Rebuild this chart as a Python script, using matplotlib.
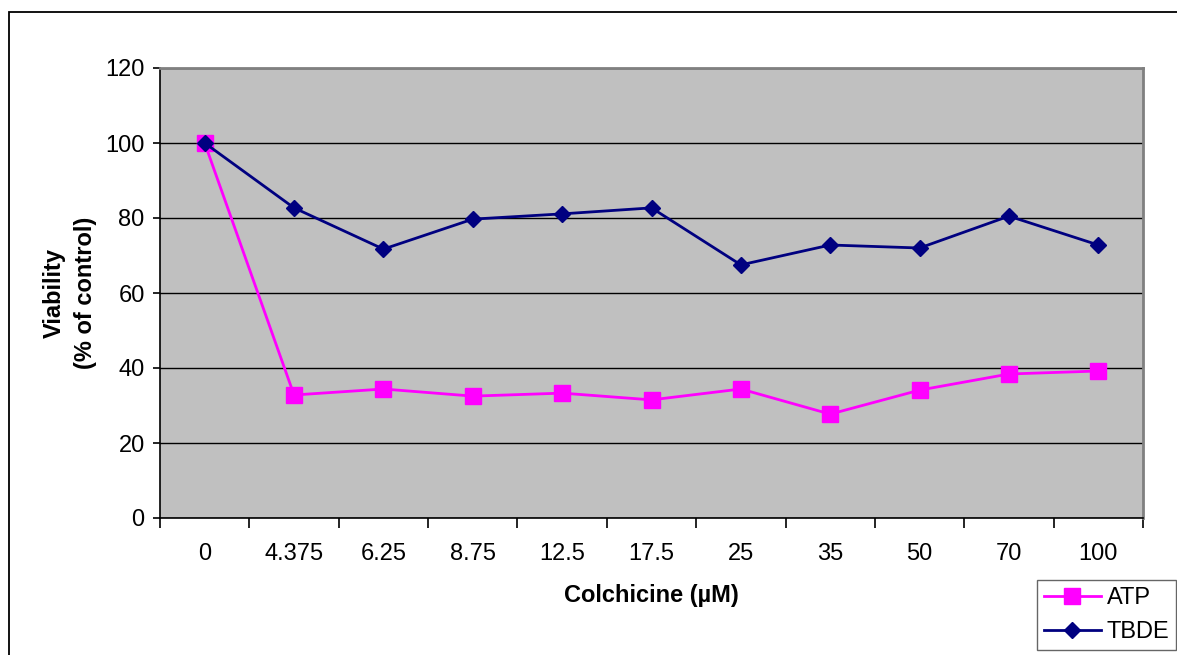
import matplotlib
matplotlib.use("Agg")
import matplotlib.pyplot as plt
from matplotlib.patches import Rectangle

plt.rcParams['font.family'] = ['Liberation Sans', 'DejaVu Sans']

# Colchicine concentrations (categorical x axis)
doses = ['0', '4.375', '6.25', '8.75', '12.5', '17.5', '25', '35', '50', '70', '100']
atp = [100, 32.8, 34.4, 32.5, 33.3, 31.5, 34.4, 27.7, 34.1, 38.4, 39.2]
tbde = [100, 82.7, 71.7, 79.7, 81.1, 82.7, 67.5, 72.8, 72.0, 80.5, 72.8]

W, H = 1177, 655
FS = 17
fig = plt.figure(figsize=(W / 100, H / 100), dpi=100)

# outer chart frame, running off the right and bottom edges
fig.patches.append(Rectangle((9 / W, -0.1), 1.2, 1 - 12 / H + 0.1,
                             transform=fig.transFigure, fill=False,
                             edgecolor='black', linewidth=1.3))

ax = fig.add_axes([160 / W, 1 - 518 / H, (1143 - 160) / W, (518 - 68) / H])
ax.set_facecolor('#C0C0C0')

x = list(range(len(doses)))
ax.plot(x, atp, color='#FF00FF', marker='s', markersize=11, linewidth=2,
        label='ATP', zorder=3)
ax.plot(x, tbde, color='#000080', marker='D', markersize=8, linewidth=2,
        label='TBDE', zorder=4)

ax.set_xlim(-0.5, len(doses) - 0.5)
ax.set_ylim(0, 120)
ax.set_yticks(range(0, 121, 20))
ax.yaxis.grid(True, color='black', linewidth=1)
ax.set_axisbelow(True)

# category labels centred, tick marks on category boundaries
ax.set_xticks(x)
ax.set_xticklabels(doses, fontsize=FS)
ax.tick_params(axis='x', which='major', length=0, pad=18)
ax.set_xticks([i - 0.5 for i in range(len(doses) + 1)], minor=True)
ax.tick_params(axis='x', which='minor', length=7, width=1.2, color='black')
ax.tick_params(axis='y', length=5, width=1.2, labelsize=FS, pad=6)

for side in ('top', 'right'):
    ax.spines[side].set_color('#808080')
    ax.spines[side].set_linewidth(2)
for side in ('left', 'bottom'):
    ax.spines[side].set_color('black')
    ax.spines[side].set_linewidth(1.2)

ax.set_xlabel('Colchicine (µM)', fontsize=FS, fontweight='bold', labelpad=14)
ax.set_ylabel('Viability\n(% of control)', fontsize=FS, fontweight='bold',
              labelpad=6, linespacing=1.45)

leg = fig.legend(loc='upper left', bbox_to_anchor=(1037 / W, 1 - 580 / H),
                 frameon=True, fancybox=False, fontsize=FS,
                 handlelength=2.4, borderpad=0.3, labelspacing=0.5,
                 handletextpad=0.25, borderaxespad=0)
leg.get_frame().set_edgecolor('#404040')
leg.get_frame().set_linewidth(1)

fig.savefig('out.png', dpi=100)
